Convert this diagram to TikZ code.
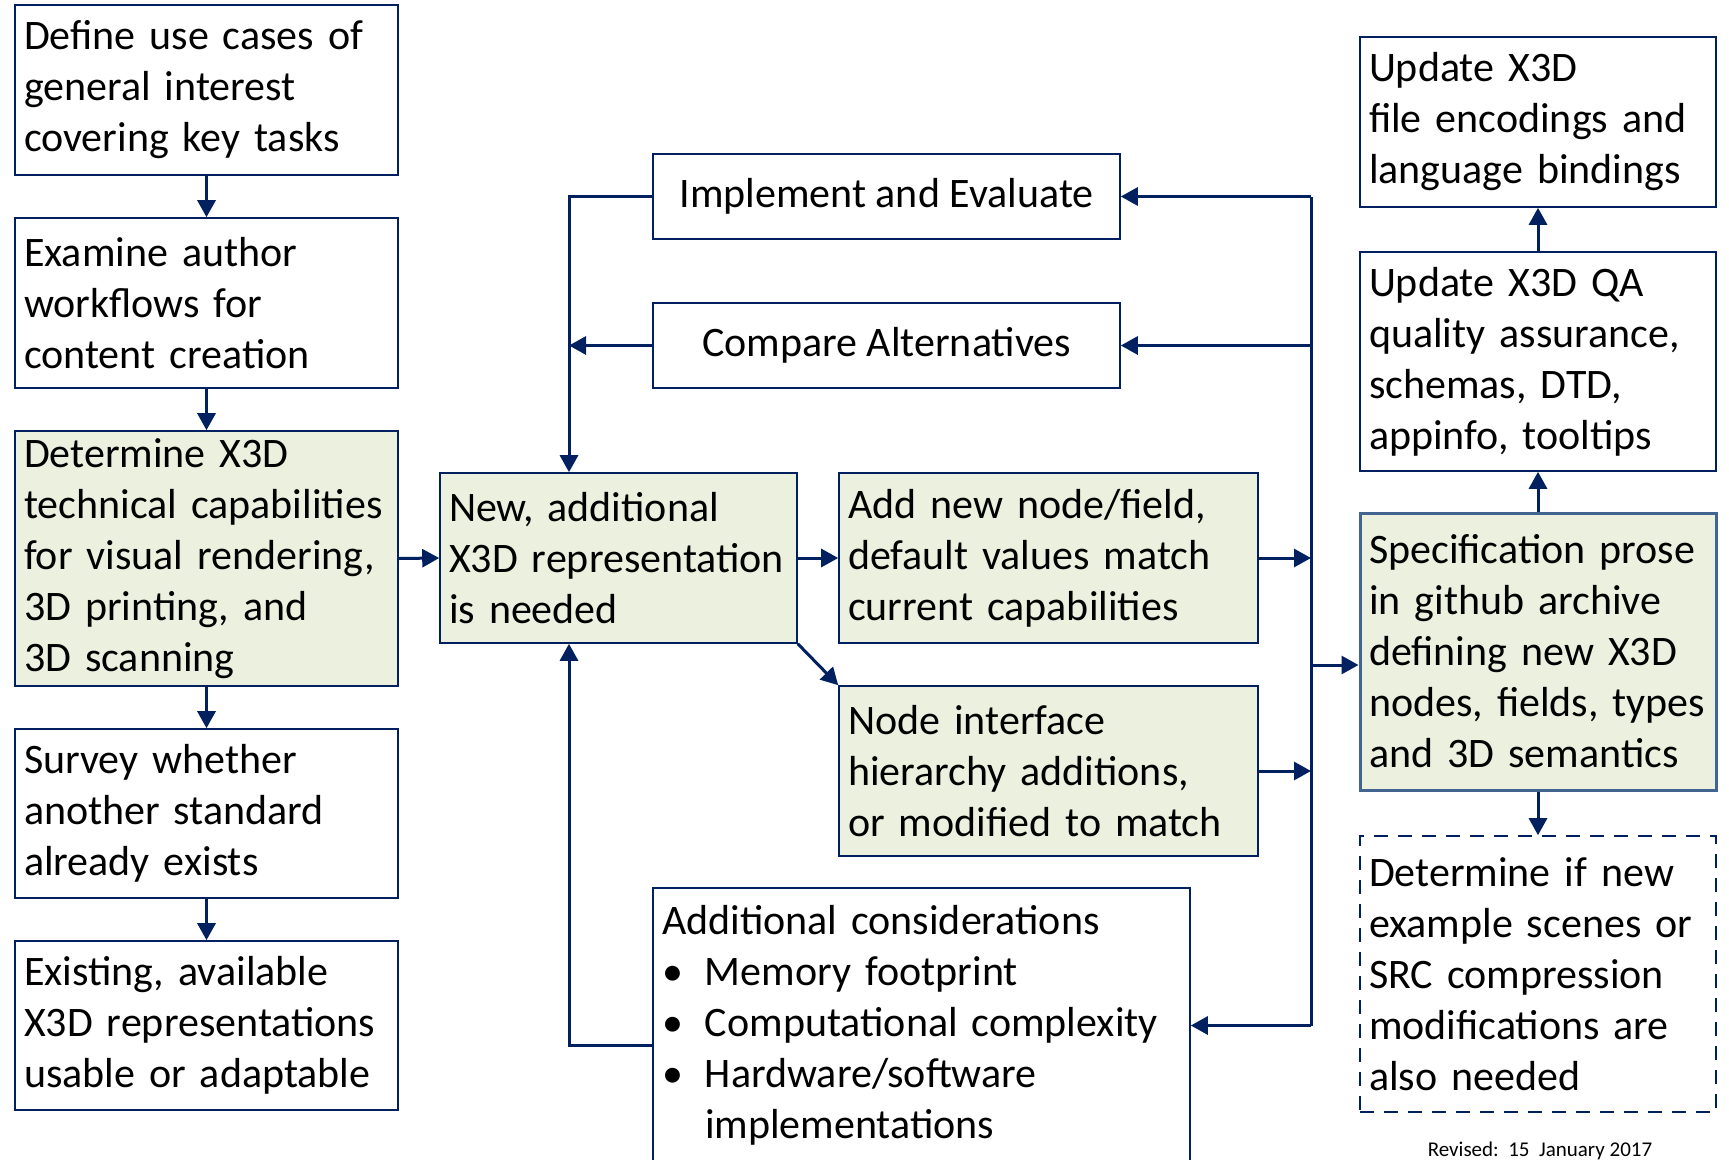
\documentclass[tikz,border=0pt]{standalone}
\usepackage{fontspec}
\setmainfont{Carlito}
\usetikzlibrary{arrows.meta}
\definecolor{boxblue}{RGB}{0,32,96}
\definecolor{boxgreen}{RGB}{235,241,222}
\definecolor{specedge}{RGB}{65,100,145}
\newcommand{\bitem}{\makebox[43pt][l]{\hspace{0pt}\textbullet}}
\begin{document}
\begin{tikzpicture}[x=1pt,y=-1pt,
  font=\fontsize{42}{51}\selectfont,
  box/.style={draw=boxblue,line width=1.6pt,rectangle,inner xsep=9pt,inner ysep=0pt,align=left},
  hl/.style={box,fill=boxgreen},
  flow/.style={draw=boxblue,line width=3pt,-{Triangle[length=17pt,width=18pt]}},
  plain/.style={draw=boxblue,line width=3pt}]
\useasboundingbox (0,0) rectangle (1729,1159);

\node[box,minimum width=383pt,minimum height=170pt,text width=365pt] (usecases) at (206.5,90)
  {Define use cases of\\general interest\\covering key tasks};
\node[box,minimum width=383pt,minimum height=170pt,text width=365pt] (authorwf) at (206.5,303)
  {Examine author\\workflows for\\content creation};
\node[hl,minimum width=383pt,minimum height=255pt,text width=365pt] (capab) at (206.5,558.5)
  {Determine X3D\\technical capabilities\\for visual rendering,\\3D printing, and\\3D scanning};
\node[box,minimum width=383pt,minimum height=169pt,text width=365pt] (survey) at (206.5,813.5)
  {Survey whether\\another standard\\already exists};
\node[box,minimum width=383pt,minimum height=169pt,text width=365pt] (existing) at (206.5,1025.5)
  {Existing, available\\X3D representations\\usable or adaptable};

\node[box,minimum width=467pt,minimum height=85pt,align=center] (implement) at (886.5,196.5) {Implement and Evaluate};
\node[box,minimum width=467pt,minimum height=85pt,align=center] (compare) at (886.5,345.5) {Compare Alternatives};
\node[hl,minimum width=357pt,minimum height=170pt,text width=339pt] (newrep) at (618.5,558)
  {New, additional\\X3D representation\\is needed};
\node[hl,minimum width=419pt,minimum height=170pt,text width=401pt] (addnode) at (1048.5,558)
  {Add new node/field,\\default values match\\current capabilities};
\node[hl,minimum width=419pt,minimum height=170pt,text width=401pt] (iface) at (1048.5,771)
  {Node interface\\hierarchy additions,\\or modified to match};
\node[box,minimum width=537pt,minimum height=275pt,text width=519pt] (consider) at (921.5,1025.5)
  {Additional considerations\\\bitem Memory footprint\\\bitem Computational complexity\\\bitem Hardware/software\\\hspace*{43pt}implementations};

\node[box,minimum width=356pt,minimum height=170pt,text width=338pt] (encodings) at (1538,122)
  {Update X3D\\file encodings and\\language bindings};
\node[box,minimum width=356pt,minimum height=219pt,text width=338pt] (qa) at (1538,361.5)
  {Update X3D QA\\quality assurance,\\schemas, DTD,\\appinfo, tooltips};
\node[hl,draw=specedge,line width=3pt,minimum width=356pt,minimum height=277pt,text width=338pt] (spec) at (1538,651.5)
  {Specification prose\\in github archive\\defining new X3D\\nodes, fields, types\\and 3D semantics};
\node[box,dash pattern=on 14pt off 10pt,minimum width=356pt,minimum height=276pt,text width=338pt] (examples) at (1538,974)
  {Determine if new\\example scenes or\\SRC compression\\modifications are\\also needed};
\node[font=\fontsize{21}{24}\selectfont] (revised) at (1540,1151) {Revised:\ \ 15\ \ January 2017};

\draw[flow] (usecases) -- (authorwf);
\draw[flow] (authorwf) -- (capab);
\draw[flow] (capab) -- (survey);
\draw[flow] (survey) -- (existing);
\draw[flow] (capab.east) -- (newrep.west);
\draw[flow] (newrep.east) -- (addnode.west);
\draw[flow] (newrep.south east) -- (iface.north west);

\coordinate (ltrunk) at (569,0);
\coordinate (rtrunk) at (1311,0);
\coordinate (specin) at ([yshift=-13.5pt]spec.west);
\coordinate (consout) at ([yshift=-19.5pt]consider.west);
\draw[flow] (implement.west) -| (ltrunk |- newrep.north);
\draw[flow] (compare.west) -- (ltrunk |- compare.west);
\draw[flow] (consout) -| (ltrunk |- newrep.south);

\draw[plain] (rtrunk |- implement.east) -- (rtrunk |- consider.east);
\draw[flow] (rtrunk |- implement.east) -- (implement.east);
\draw[flow] (rtrunk |- compare.east) -- (compare.east);
\draw[flow] (rtrunk |- consider.east) -- (consider.east);
\draw[flow] (addnode.east) -- (rtrunk |- addnode.east);
\draw[flow] (iface.east) -- (rtrunk |- iface.east);
\draw[flow] (rtrunk |- specin) -- (specin);

\draw[flow] (spec) -- (qa);
\draw[flow] (qa) -- (encodings);
\draw[flow] (spec) -- (examples);
\end{tikzpicture}
\end{document}
